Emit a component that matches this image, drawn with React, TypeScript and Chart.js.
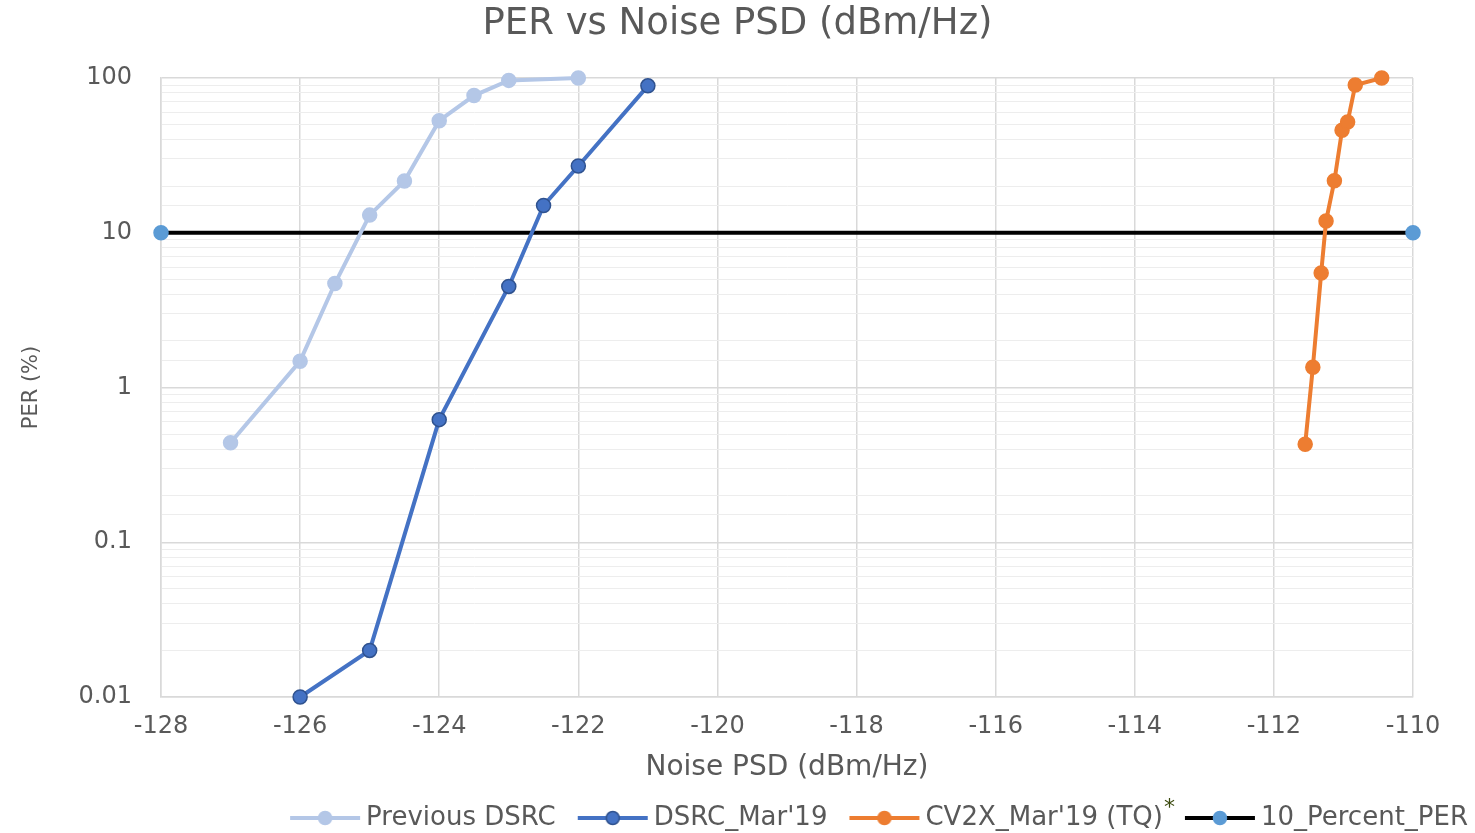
import React, { useEffect, useRef } from 'react';
import { Chart, registerables } from 'chart.js';

Chart.register(...registerables);

const FONT = '"DejaVu Sans", sans-serif';
const TEXT = '#595959';

const seriesNames = ['Previous DSRC', "DSRC_Mar'19", "CV2X_Mar'19 (TQ)", '10_Percent_PER'];
const seriesColors = ['#B4C7E7', '#4472C4', '#ED7D31', '#000000'];
const markerColors = ['#B4C7E7', '#4472C4', '#ED7D31', '#5B9BD5'];
const markerBorders = ['#B4C7E7', '#2F528F', '#ED7D31', '#5B9BD5'];

const prevX = [-127, -126, -125.5, -125, -124.5, -124, -123.5, -123, -122];
const prevY = [0.44, 1.48, 4.7, 13, 21.6, 53, 77, 96.5, 100];

const dsrcX = [-126, -125, -124, -123, -122.5, -122, -121];
const dsrcY = [0.01, 0.02, 0.62, 4.5, 15, 27, 89];

const cv2xX = [-111.55, -111.44, -111.32, -111.25, -111.13, -111.02, -110.94, -110.83, -110.45];
const cv2xY = [0.43, 1.35, 5.5, 11.9, 21.7, 46, 52, 90, 100];

const thresholdX = [-128, -110];
const thresholdY = [10, 10];

const xMin = -128;
const xMax = -110;
const xStep = 2;
const yTickLabels = ['0.01', '0.1', '1', '10', '100'];

const titleText = 'PER vs Noise PSD (dBm/Hz)';
const xTitle = 'Noise PSD (dBm/Hz)';
const yTitle = 'PER (%)';

const isPow10 = (v: number) => {
  const l = Math.log10(v);
  return Math.abs(l - Math.round(l)) < 1e-6;
};

function makeLegendMarker(lineColor: string, fill: string, border: string) {
  const c = document.createElement('canvas');
  c.width = 100;
  c.height = 20;
  const g = c.getContext('2d')!;
  g.strokeStyle = lineColor;
  g.lineWidth = 4;
  g.beginPath();
  g.moveTo(26, 10);
  g.lineTo(96, 10);
  g.stroke();
  g.beginPath();
  g.arc(61, 10, 6.5, 0, Math.PI * 2);
  g.fillStyle = fill;
  g.fill();
  g.strokeStyle = border;
  g.lineWidth = 1.5;
  g.stroke();
  return c;
}

const asteriskPlugin = {
  id: 'asteriskNote',
  afterDraw(chart: any) {
    const hb = chart.legend?.legendHitBoxes?.[2];
    if (!hb) return;
    const ctx = chart.ctx;
    ctx.save();
    ctx.fillStyle = '#3B4A0F';
    ctx.font = `22px ${FONT}`;
    ctx.textBaseline = 'top';
    ctx.textAlign = 'left';
    ctx.fillText('*', hb.left + hb.width + 1, hb.top - 8);
    ctx.restore();
  },
};

export default function App() {
  const ref = useRef<HTMLCanvasElement | null>(null);

  useEffect(() => {
    if (!ref.current) return;
    const xs = [prevX, dsrcX, cv2xX, thresholdX];
    const ys = [prevY, dsrcY, cv2xY, thresholdY];
    const datasets = seriesNames.map((name, i) => ({
      label: name,
      data: xs[i].map((x, j) => ({ x, y: ys[i][j] })),
      showLine: true,
      borderColor: seriesColors[i],
      backgroundColor: markerColors[i],
      borderWidth: 4,
      pointRadius: 7,
      pointBackgroundColor: markerColors[i],
      pointBorderColor: markerBorders[i],
      pointBorderWidth: 1.5,
      clip: false as const,
      order: i === 3 ? 5 : i,
    }));
    const markers = seriesNames.map((_, i) => makeLegendMarker(seriesColors[i], markerColors[i], markerBorders[i]));

    const chart = new Chart(ref.current, {
      type: 'scatter',
      data: { datasets },
      plugins: [asteriskPlugin],
      options: {
        animation: false,
        responsive: false,
        layout: { padding: { left: 0, right: 0, top: 0, bottom: -8 } },
        font: { family: FONT },
        plugins: {
          tooltip: { enabled: false },
          title: {
            display: true,
            text: titleText,
            color: TEXT,
            font: { family: FONT, size: 37, weight: 'normal' },
            padding: { top: 2, bottom: 31.6 },
          },
          legend: {
            display: true,
            position: 'bottom',
            align: 'end',
            labels: {
              color: TEXT,
              font: { family: FONT, size: 26 },
              usePointStyle: true,
              pointStyleWidth: 78,
              padding: 7,
              generateLabels: (ch: any) => {
                const base = (Chart.defaults.plugins.legend.labels as any).generateLabels(ch);
                return base.map((it: any, i: number) => ({ ...it, pointStyle: markers[i], fontColor: TEXT }));
              },
            },
          },
        },
        scales: {
          x: {
            type: 'linear',
            position: 'bottom',
            min: xMin,
            max: xMax,
            afterFit: (s: any) => {
              s.height = 101;
            },
            ticks: {
              stepSize: xStep,
              color: TEXT,
              font: { family: FONT, size: 24 },
              padding: 15,
              maxRotation: 0,
            },
            grid: { color: '#D9D9D9', lineWidth: 1.5, drawTicks: false },
            border: { color: '#D9D9D9', width: 1.5 },
            title: {
              display: true,
              text: xTitle,
              color: TEXT,
              font: { family: FONT, size: 28 },
              padding: { top: 0, bottom: 13.2 },
            },
          },
          y: {
            type: 'logarithmic',
            position: 'left',
            min: 0.01,
            max: 100,
            afterFit: (s: any) => {
              s.width = 161;
            },
            ticks: {
              autoSkip: false,
              color: TEXT,
              font: { family: FONT, size: 24 },
              padding: 29,
              callback: (v: any) => {
                const val = Number(v);
                const lbl = yTickLabels.find((l) => Math.abs(parseFloat(l) - val) < val * 1e-6);
                return lbl ?? '';
              },
            },
            grid: {
              drawTicks: false,
              color: (c: any) => (c.tick && isPow10(c.tick.value) ? '#D9D9D9' : '#EDEDED'),
              lineWidth: (c: any) => (c.tick && isPow10(c.tick.value) ? 1.5 : 1),
            },
            border: { color: '#D9D9D9', width: 1.5 },
            title: {
              display: true,
              text: yTitle,
              color: TEXT,
              font: { family: FONT, size: 21 },
              padding: { top: 19.4, bottom: 0 },
            },
          },
          y2: {
            type: 'linear',
            position: 'right',
            display: true,
            afterFit: (s: any) => {
              s.width = 62;
            },
            ticks: { display: false },
            grid: { display: false, drawTicks: false },
            border: { display: false },
          },
        },
      } as any,
    });
    return () => chart.destroy();
  }, []);

  return (
    <div style={{ position: 'fixed', left: 0, top: 0, width: 1475, height: 833, background: '#fff' }}>
      <canvas ref={ref} width={1475} height={833} style={{ display: 'block' }} />
    </div>
  );
}
